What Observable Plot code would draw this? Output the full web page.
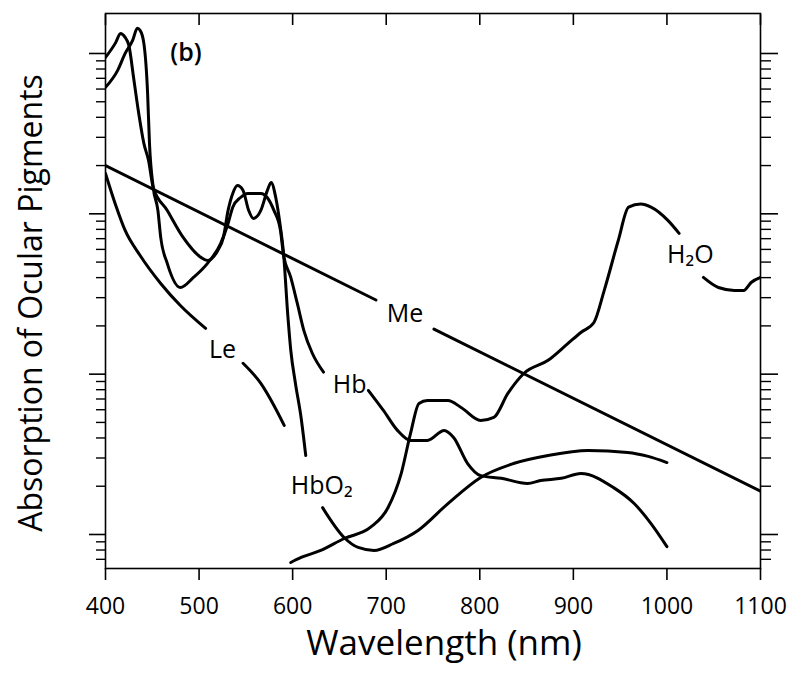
<!DOCTYPE html>
<html>
<head>
<meta charset="utf-8">
<script src="https://cdn.jsdelivr.net/npm/d3@7"></script>
<script src="https://cdn.jsdelivr.net/npm/@observablehq/plot@0.6"></script>
<style>
  html, body { margin: 0; padding: 0; background: #fff; }
</style>
</head>
<body>
<div id="chart"></div>
<script>
// Axis ticks
const xTicks = [400, 500, 600, 700, 800, 900, 1000, 1100];
const yMajorTicks = [1, 10, 100, 1000];
const yMinorTicks = [0.7, 0.8, 0.9, 2, 3, 4, 5, 6, 7, 8, 9, 20, 30, 40, 50, 60, 70, 80, 90, 200, 300, 400, 500, 600, 700, 800, 900];

// Oxyhemoglobin (HbO2) — null marks the gap at the label
const hbo2Nm  = [400, 411, 416, 421, 425, 430, 435, 441, 446, 451, 466, 483, 502, 509, 520, 526, 531, 536, 541, 547, 553, 558, 566, 573, 577, 582, 587, 590, 595, 598, 603, 609, 614, 623, 632, 655, 670, 687, 708, 734, 766, 801, 836, 873, 916, 958, 980, 1000];
const hbo2Val = [946, 1173, 1334, 1260, 1124, 709, 442, 275, 215, 146, 105, 71.3, 53.5, 51.2, 59.1, 71.3, 105, 134, 150, 140, 105, 93.6, 105, 140, 157, 126, 82.2, 59.1, 22.6, 14.1, 8.75, 5.37, 3.11, null, 1.47, 0.958, 0.83, 0.795, 0.879, 1.06, 1.56, 2.27, 2.77, 3.11, 3.34, 3.25, 3.07, 2.81];

// Deoxyhemoglobin (Hb)
const hbNm  = [400, 413, 421, 429, 434, 437, 441, 445, 447, 451, 456, 459, 466, 480, 494, 509, 523, 531, 536, 544, 552, 566, 573, 580, 587, 590, 598, 605, 612, 621, 633, 657, 681, 697, 712, 726, 744, 762, 772, 787, 801, 823, 851, 865, 887, 908, 943, 965, 983, 1000];
const hbVal = [615, 785, 1001, 1207, 1435, 1393, 1156, 564, 275, 146, 105, 71.3, 49.1, 34.7, 40.1, 49.1, 65.3, 87.1, 110, 126, 134, 134, 126, 105, 78.8, 56.6, 40.1, 27.6, 18.7, 13.5, 10.3, null, 7.91, 5.94, 4.46, 3.86, 3.86, 4.46, 4.03, 2.77, 2.33, 2.24, 2.08, 2.17, 2.24, 2.40, 1.96, 1.56, 1.17, 0.84];

// Water (H2O)
const h2oNm  = [598, 609, 630, 655, 683, 702, 716, 726, 735, 744, 766, 780, 801, 815, 830, 847, 873, 894, 908, 922, 933, 948, 959, 972, 983, 1001, 1013, 1025, 1039, 1055, 1072, 1082, 1090, 1100];
const h2oVal = [0.669, 0.719, 0.795, 0.944, 1.106, 1.474, 2.40, 4.27, 6.57, 6.85, 6.85, 6.20, 5.14, 5.37, 7.58, 10.1, 12.2, 15.5, 18.2, 21.0, 33.3, 68.2, 110, 115, 110, 91, 75.5, null, 40.1, 34.7, 33.3, 33.3, 37.3, 40.1];

// Lens (Le)
const leNm  = [400, 411, 421, 437, 459, 480, 507, 527, 547, 566, 580, 591];
const leVal = [178.6, 112.8, 78.8, 55.0, 36.8, 26.8, 19.3, null, 11.7, 8.75, 6.38, 4.79];

// Melanin (Me)
const meNm  = [400, 689, 720, 751, 1100];
const meVal = [200, 29.0, null, 19.1, 1.86];

// In-plot labels
const labelText = ["H₂O", "Me", "Le", "Hb", "HbO₂"];
const labelNm   = [1025, 720, 525, 661, 631];
const labelVal  = [55, 23.6, 14.1, 8.5, 2.02];
const panelText = ["(b)"];
const panelNm   = [486];
const panelVal  = [1001];

const series = [
  {name: "HbO2", nm: hbo2Nm, val: hbo2Val},
  {name: "Hb", nm: hbNm, val: hbVal},
  {name: "H2O", nm: h2oNm, val: h2oVal},
  {name: "Le", nm: leNm, val: leVal},
  {name: "Me", nm: meNm, val: meVal}
];
const rows = series.flatMap(s => s.nm.map((x, i) => ({series: s.name, nm: x, val: s.val[i]})));

const font = "'Open Sans', 'DejaVu Sans', sans-serif";

const chart = Plot.plot({
  width: 800,
  height: 674,
  marginLeft: 105,
  marginRight: 40,
  marginTop: 13,
  marginBottom: 106,
  style: {fontFamily: font, fontSize: "23px", color: "black", background: "white"},
  x: {domain: [400, 1100]},
  y: {type: "log", domain: [0.6136, 1776]},
  marks: [
    Plot.axisX({anchor: "bottom", ticks: xTicks, tickSize: 12, tickPadding: 17, tickFormat: d => String(d), fontSize: 23, strokeWidth: 1.6, label: null}),
    Plot.axisX({anchor: "top", ticks: xTicks, tickSize: -11, fill: "none", strokeWidth: 1.6, label: null}),
    Plot.axisY({anchor: "left", ticks: yMajorTicks, tickSize: 16, fill: "none", strokeWidth: 1.6, label: null}),
    Plot.axisY({anchor: "left", ticks: yMinorTicks, tickSize: 9, fill: "none", strokeWidth: 1.4, label: null}),
    Plot.axisY({anchor: "right", ticks: yMajorTicks, tickSize: 17, fill: "none", strokeWidth: 1.6, label: null}),
    Plot.axisY({anchor: "right", ticks: yMinorTicks, tickSize: 10, fill: "none", strokeWidth: 1.4, label: null}),
    Plot.frame({stroke: "black", strokeWidth: 1.6}),
    Plot.line(rows, {x: "nm", y: "val", z: "series", stroke: "black", strokeWidth: 3, curve: "monotone-x", clip: true}),
    Plot.text(labelText, {x: (d, i) => labelNm[i], y: (d, i) => labelVal[i], text: d => d, fontSize: 25, fill: "black"}),
    Plot.text(panelText, {x: (d, i) => panelNm[i], y: (d, i) => panelVal[i], text: d => d, fontSize: 25, fontWeight: 600, fill: "black"}),
    Plot.text(["Wavelength (nm)"], {frameAnchor: "bottom", textAnchor: "middle", lineAnchor: "middle", dx: 11, dy: 75, fontSize: 35, fill: "black"}),
    Plot.text(["Absorption of Ocular Pigments"], {frameAnchor: "left", textAnchor: "middle", lineAnchor: "middle", rotate: -90, dx: -74, dy: 12, fontSize: 32, fill: "black"})
  ]
});
document.getElementById("chart").appendChild(chart);
</script>
</body>
</html>
